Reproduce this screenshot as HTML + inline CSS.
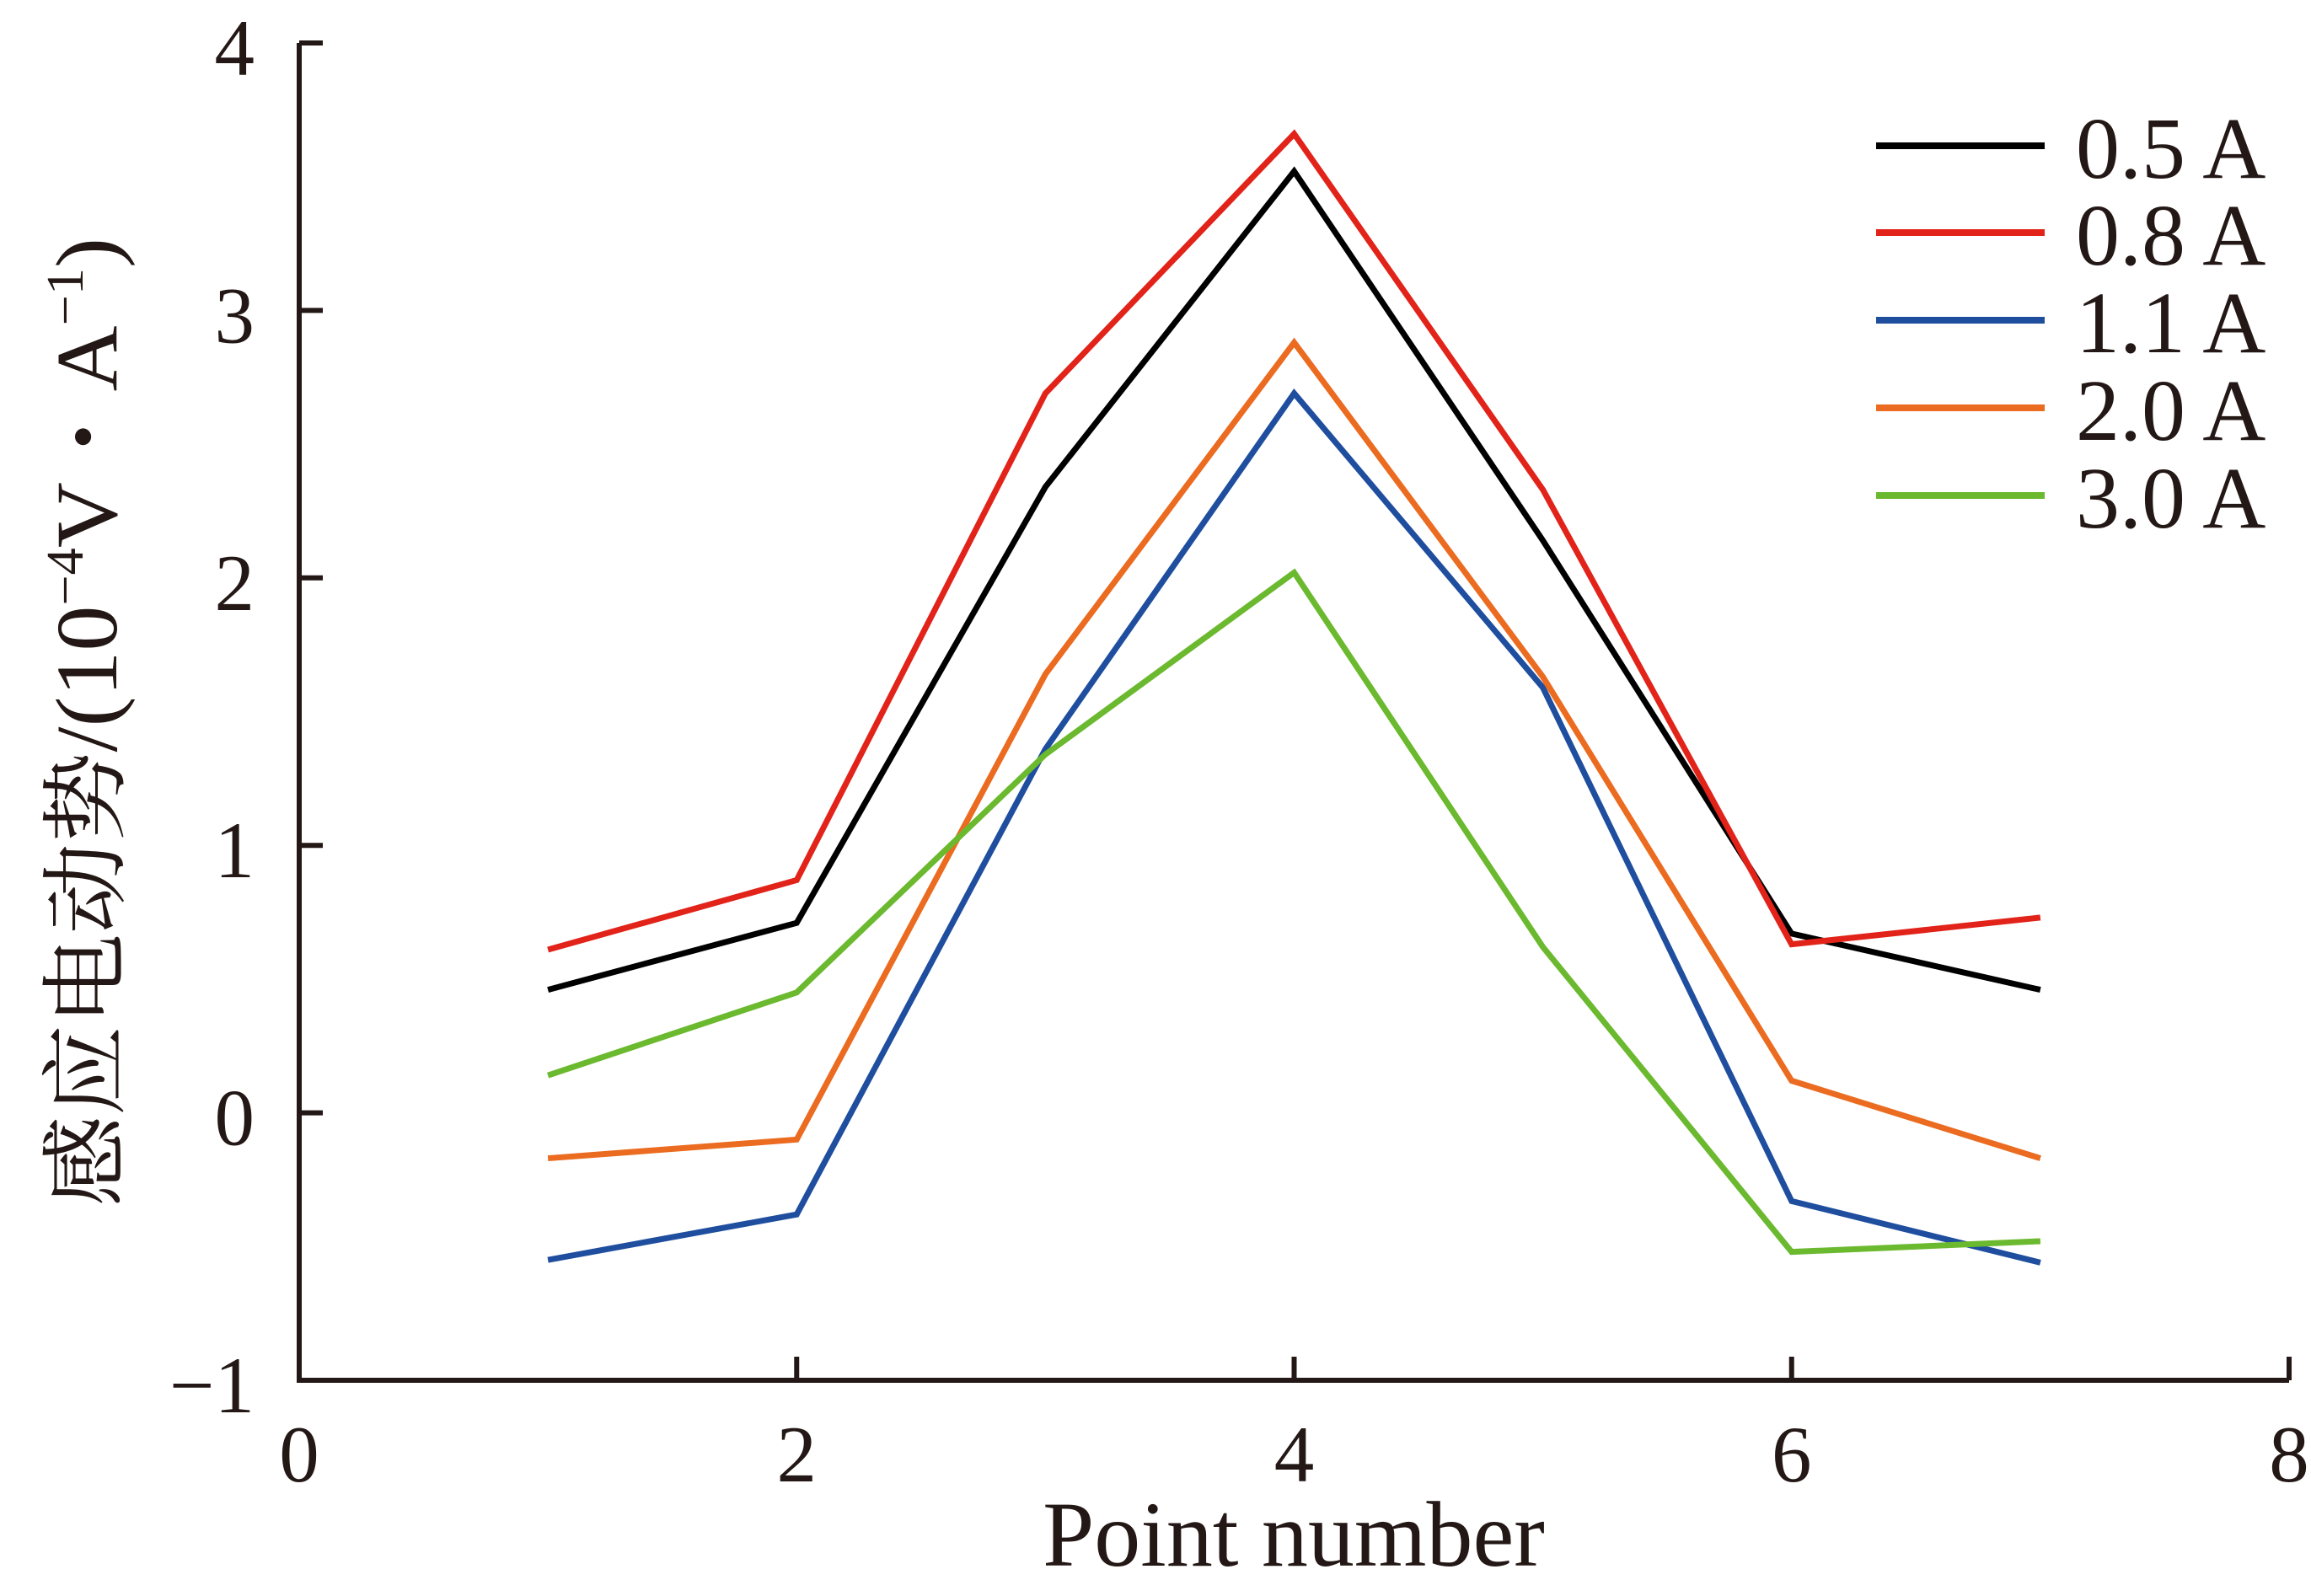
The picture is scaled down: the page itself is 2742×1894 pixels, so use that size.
<!DOCTYPE html>
<html><head><meta charset="utf-8"><style>
html,body{margin:0;padding:0;background:#fff;}
svg{display:block;}
text{font-family:"Liberation Serif","Noto Serif CJK SC",serif;fill:#231815;}
</style></head><body>
<svg id="chart" width="2742" height="1894" viewBox="0 0 2742 1894" xmlns="http://www.w3.org/2000/svg">
<g id="axes"></g>
<g id="series"></g>
<g id="legend"></g>
<text x="1535" y="1858" font-size="110" text-anchor="middle">Point number</text>
<text transform="translate(138,857) rotate(-90)" font-size="104" text-anchor="middle" textLength="1150" lengthAdjust="spacingAndGlyphs">感应电动势/(10<tspan font-size="62" dy="-40">−4</tspan><tspan dy="40">V・A</tspan><tspan font-size="62" dy="-40">−1</tspan><tspan dy="40">)</tspan></text>
</svg>
<script>
const xValues = [1, 2, 3, 4, 5, 6, 7];
const seriesNames = ["0.5 A", "0.8 A", "1.1 A", "2.0 A", "3.0 A"];
const seriesColors = ["#000000", "#e2231a", "#1f4e9f", "#eb6b20", "#6bb92f"];
const s05 = [0.46, 0.71, 2.34, 3.52, 2.14, 0.67, 0.46];
const s08 = [0.61, 0.87, 2.69, 3.66, 2.33, 0.63, 0.73];
const s11 = [-0.55, -0.38, 1.36, 2.69, 1.59, -0.33, -0.56];
const s20 = [-0.17, -0.10, 1.64, 2.88, 1.63, 0.12, -0.17];
const s30 = [0.14, 0.45, 1.34, 2.02, 0.62, -0.52, -0.48];
const xTicks = [0, 2, 4, 6, 8];
const yTicks = [-1, 0, 1, 2, 3, 4];
const yTickLabels = ["−1", "0", "1", "2", "3", "4"];

const NS = "http://www.w3.org/2000/svg";
const X0 = 355, X1 = 2716, Y0 = 1638, Y1 = 51;
function sx(v){ return X0 + (v - 0) / 8 * (X1 - X0); }
function sy(v){ return Y0 - (v + 1) / 5 * (Y0 - Y1); }
function mk(tag, attrs, parent){ const e = document.createElementNS(NS, tag); for (const k in attrs) e.setAttribute(k, attrs[k]); parent.appendChild(e); return e; }

const axes = document.getElementById("axes");
const frame = mk("path", {d:`M${X0},${Y1} V${Y0} H${X1}`, fill:"none", stroke:"#231815", "stroke-width":6}, axes);


xTicks.forEach(t => {
  const tk = mk("line", {x1:sx(t), x2:sx(t), y1:Y0, y2:Y0-28, stroke:"#231815", "stroke-width":6}, axes);
  
  
  const lb = mk("text", {x:sx(t), y:1758, "font-size":95, "text-anchor":"middle"}, axes);
  lb.textContent = String(t);
  
  
});
yTicks.forEach((t, i) => {
  const tk = mk("line", {x1:X0, x2:X0+28, y1:sy(t), y2:sy(t), stroke:"#231815", "stroke-width":6}, axes);
  
  
  const lb = mk("text", {x:302, y:sy(t)+38, "font-size":95, "text-anchor":"end"}, axes);
  lb.textContent = yTickLabels[i];
  
  
});

const allSeries = [s05, s08, s11, s20, s30];
const sg = document.getElementById("series");
allSeries.forEach((vals, i) => {
  const d = vals.map((v, j) => (j ? "L" : "M") + sx(xValues[j]) + "," + sy(v)).join(" ");
  const p = mk("path", {d:d, fill:"none", stroke:seriesColors[i], "stroke-width":7, "stroke-linejoin":"miter"}, sg);
  
  
});

const lg = document.getElementById("legend");
const legY = [173, 276, 380, 484, 588];
seriesNames.forEach((n, i) => {
  const ln = mk("line", {x1:2226, x2:2426, y1:legY[i], y2:legY[i], stroke:seriesColors[i], "stroke-width":8}, lg);
  
  
  const t = mk("text", {x:2463, y:legY[i]+38, "font-size":104}, lg);
  t.textContent = n;
  
  
});
</script>
</body></html>
